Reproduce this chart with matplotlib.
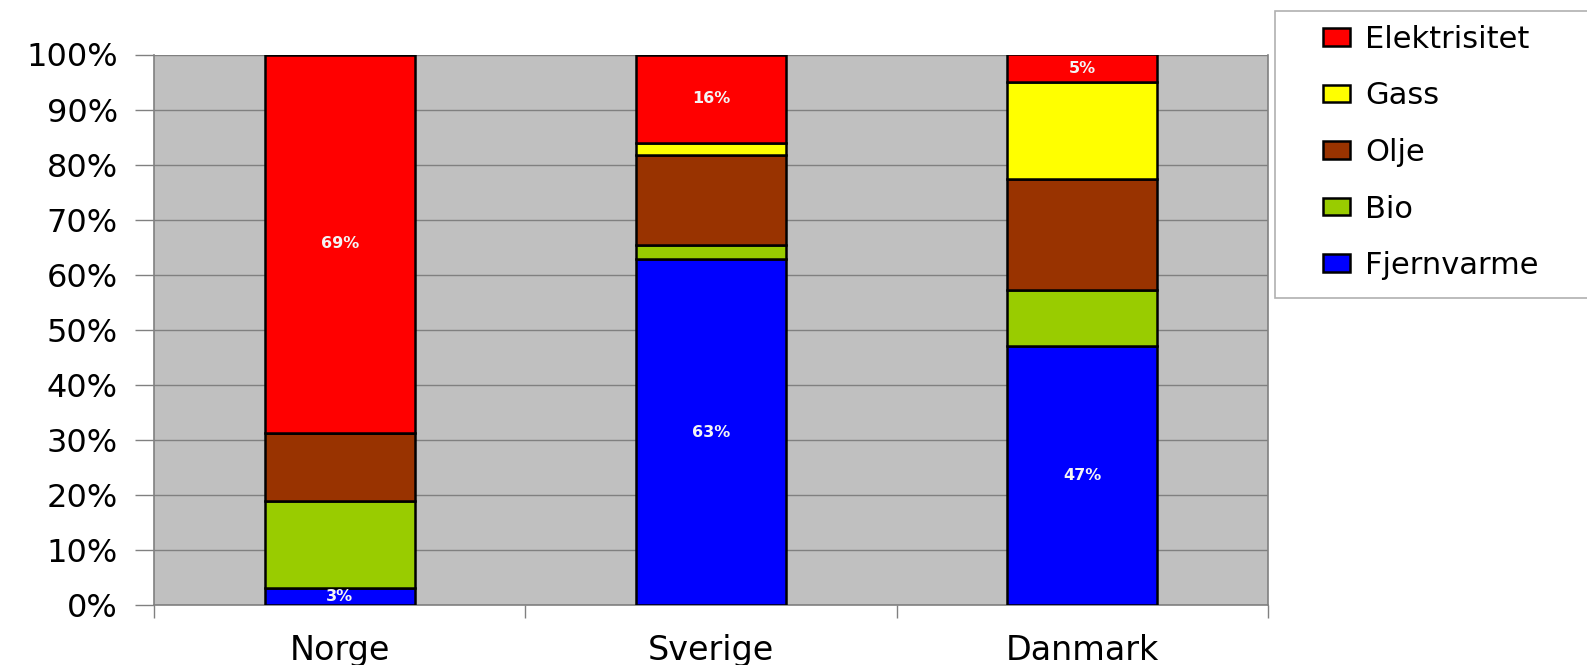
import matplotlib
matplotlib.use("Agg")
import matplotlib.pyplot as plt
from matplotlib.patches import Rectangle
import numpy as np

plt.rcParams['font.family'] = ['DejaVu Sans']

categories = ["Norge", "Sverige", "Danmark"]
series_names = ["Fjernvarme", "Bio", "Olje", "Gass", "Elektrisitet"]
fjernvarme = [3.0, 62.8, 47.0]
bio = [15.9, 2.6, 10.3]
olje = [12.3, 16.3, 20.0]
gass = [0.0, 2.3, 17.7]
elektrisitet = [68.8, 16.0, 5.0]
label_text = {"Fjernvarme": ["3%", "63%", "47%"],
              "Elektrisitet": ["69%", "16%", "5%"]}
y_ticks = [0, 10, 20, 30, 40, 50, 60, 70, 80, 90, 100]
y_tick_labels = [f"{v}%" for v in y_ticks]

colors = {"Fjernvarme": "#0000FF", "Bio": "#99CC00", "Olje": "#993300",
          "Gass": "#FFFF00", "Elektrisitet": "#FF0000"}
data = {"Fjernvarme": fjernvarme, "Bio": bio, "Olje": olje,
        "Gass": gass, "Elektrisitet": elektrisitet}

W, H = 1587, 665
fig = plt.figure(figsize=(W/100, H/100), dpi=100)
ax = fig.add_axes([154/W, 1-605/H, (1268-154)/W, (605-54.5)/H])
ax.set_facecolor("#C0C0C0")

x = np.arange(len(categories))
bottom = np.zeros(len(categories))
handles = {}
for name in series_names:
    vals = np.array(data[name])
    bars = ax.bar(x, vals, width=0.404, bottom=bottom, color=colors[name],
                  edgecolor="black", linewidth=1.8, zorder=3, label=name)
    handles[name] = bars
    if name in label_text:
        for i, (b, v) in enumerate(zip(bottom, vals)):
            ax.text(x[i], b + v / 2, label_text[name][i], ha="center", va="center",
                    color="#F4F4F4", fontsize=11.5, fontweight="bold", zorder=4)
    bottom += vals

ax.set_xlim(-0.5, 2.5)
ax.set_ylim(0, 100)
ax.set_yticks(y_ticks)
ax.set_yticklabels(y_tick_labels, fontsize=23)
ax.yaxis.grid(True, color="#808080", linewidth=1.0, zorder=0)
ax.set_axisbelow(True)
ax.tick_params(axis="y", length=14, width=1, color="#808080", pad=12)

ax.set_xticks([-0.5, 0.5, 1.5, 2.5])
ax.set_xticklabels([])
ax.set_xticks(x, minor=True)
ax.set_xticklabels(categories, minor=True, fontsize=24)
ax.tick_params(axis="x", which="major", length=9, width=1, color="#808080", direction="out")
ax.tick_params(axis="x", which="minor", length=0, pad=21)

for s in ["left", "bottom", "right"]:
    ax.spines[s].set_color("#808080")
    ax.spines[s].set_linewidth(1.2)
ax.spines["top"].set_visible(False)

# legend frame
fig.patches.append(Rectangle((1275/W, 1-298/H), (W-1275)/W + 0.01, (298-11)/H,
                             transform=fig.transFigure, facecolor="white",
                             edgecolor="#B0B0B0", linewidth=1.2, zorder=0))
order = ["Elektrisitet", "Gass", "Olje", "Bio", "Fjernvarme"]
leg = fig.legend([handles[n] for n in order], order, loc="upper left",
                 bbox_to_anchor=(1323/W, 1-25/H), fontsize=22,
                 frameon=False, handlelength=0.89, handleheight=0.5,
                 handletextpad=0.5, labelspacing=0.9, borderpad=0,
                 borderaxespad=0)

fig.savefig("out.png", dpi=100)
